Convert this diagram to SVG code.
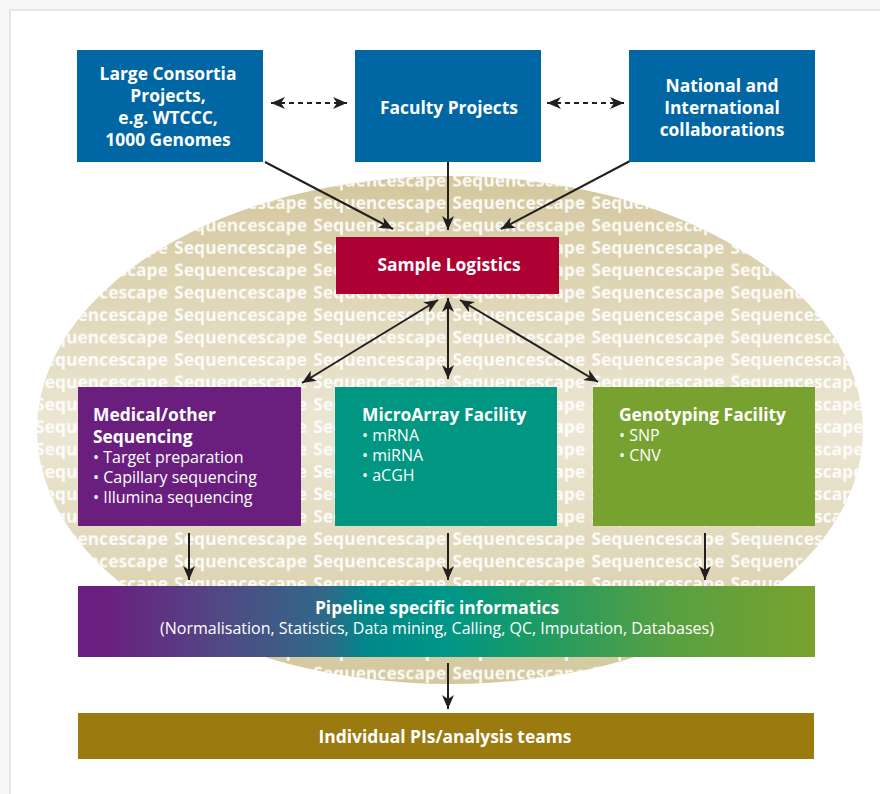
<svg xmlns="http://www.w3.org/2000/svg" width="880" height="794" viewBox="0 0 880 794">
<defs>
<style>
.t{font-family:"Open Sans","Noto Sans","Liberation Sans",sans-serif;fill:#fff}
.b{font-weight:700;font-size:17.4px}
.r{font-weight:400;font-size:16px}
.ln{stroke:#231f20;stroke-width:2;fill:none}
.dash{stroke-dasharray:5 4}
</style>
<linearGradient id="ell" x1="0" y1="0" x2="0" y2="1">
<stop offset="0" stop-color="#d3c79c"/>
<stop offset="0.5" stop-color="#ece7d5"/>
<stop offset="1" stop-color="#d3c89e"/>
</linearGradient>
<linearGradient id="pipe" x1="0" y1="0" x2="1" y2="0">
<stop offset="0" stop-color="#6a1f80"/>
<stop offset="0.04" stop-color="#6a2080"/>
<stop offset="0.2" stop-color="#504a84"/>
<stop offset="0.34" stop-color="#2e6a88"/>
<stop offset="0.39" stop-color="#00878a"/>
<stop offset="0.5" stop-color="#009688"/>
<stop offset="0.6" stop-color="#169a68"/>
<stop offset="0.8" stop-color="#57a042"/>
<stop offset="1" stop-color="#79a22e"/>
</linearGradient>
<pattern id="seq" patternUnits="userSpaceOnUse" x="35" y="170" width="139.1" height="22.4">
<text x="0" y="17" font-family="Open Sans, Noto Sans, Liberation Sans, sans-serif" font-weight="700" font-size="17" fill="#fff" fill-opacity="0.9" textLength="133" lengthAdjust="spacingAndGlyphs">Sequencescape</text>
</pattern>
<marker id="ah" viewBox="0 0 14 12" refX="14" refY="6" markerWidth="14" markerHeight="12" markerUnits="userSpaceOnUse" orient="auto-start-reverse">
<path d="M0,0 L14,6 L0,12 L4,6 z" fill="#231f20"/>
</marker>
</defs>
<rect x="0" y="0" width="880" height="794" fill="#f6f6f6"/>
<rect x="10" y="10" width="900" height="900" fill="#fff" stroke="#e6e6e6" stroke-width="2"/>
<g id="background">
<ellipse cx="450" cy="430" rx="413" ry="254" fill="url(#ell)"/>
<ellipse cx="450" cy="430" rx="413" ry="254" fill="url(#seq)"/>
</g>
<g id="connectors">
<line class="ln dash" x1="271" y1="103" x2="347" y2="103" marker-start="url(#ah)" marker-end="url(#ah)"/>
<line class="ln dash" x1="547" y1="103" x2="624" y2="103" marker-start="url(#ah)" marker-end="url(#ah)"/>
<line class="ln" x1="265" y1="162" x2="393" y2="229" marker-end="url(#ah)"/>
<line class="ln" x1="448" y1="162" x2="448" y2="230" marker-end="url(#ah)"/>
<line class="ln" x1="630" y1="161" x2="501" y2="229" marker-end="url(#ah)"/>
<line class="ln" x1="438" y1="300" x2="302" y2="383" marker-start="url(#ah)" marker-end="url(#ah)"/>
<line class="ln" x1="448" y1="298" x2="448" y2="379" marker-start="url(#ah)" marker-end="url(#ah)"/>
<line class="ln" x1="460" y1="300" x2="598" y2="382" marker-start="url(#ah)" marker-end="url(#ah)"/>
<line class="ln" x1="189" y1="533" x2="189" y2="580" marker-end="url(#ah)"/>
<line class="ln" x1="448" y1="533" x2="448" y2="580" marker-end="url(#ah)"/>
<line class="ln" x1="705" y1="533" x2="705" y2="580" marker-end="url(#ah)"/>
<line class="ln" x1="448" y1="663" x2="448" y2="709" marker-end="url(#ah)"/>
</g>
<g id="large-consortia">
<rect x="77" y="50" width="186" height="112" fill="#0066a4"/>
<text class="t b" text-anchor="middle"><tspan x="168" y="80">Large Consortia</tspan><tspan x="168" y="102">Projects,</tspan><tspan x="168" y="124">e.g. WTCCC,</tspan><tspan x="168" y="146">1000 Genomes</tspan></text>
</g>
<g id="faculty-projects">
<rect x="355" y="50" width="186" height="112" fill="#0066a4"/>
<text class="t b" text-anchor="middle" x="449" y="114">Faculty Projects</text>
</g>
<g id="national">
<rect x="629" y="50" width="186" height="112" fill="#0066a4"/>
<text class="t b" text-anchor="middle"><tspan x="722" y="92">National and</tspan><tspan x="722" y="114">International</tspan><tspan x="722" y="136">collaborations</tspan></text>
</g>
<g id="sample-logistics">
<rect x="336" y="237" width="223" height="57" fill="#ae0032"/>
<text class="t b" text-anchor="middle" x="449" y="271">Sample Logistics</text>
</g>
<g id="medical">
<rect x="78" y="387" width="223" height="139" fill="#6a1f7f"/>
<text class="t b"><tspan x="93" y="420.5">Medical/other</tspan><tspan x="93" y="442.5">Sequencing</tspan><tspan class="r" x="93" y="462.5">• Target preparation</tspan><tspan class="r" x="93" y="482.5">• Capillary sequencing</tspan><tspan class="r" x="93" y="502.5">• Illumina sequencing</tspan></text>
</g>
<g id="microarray">
<rect x="335" y="387" width="222" height="139" fill="#009681"/>
<text class="t b"><tspan x="362" y="421">MicroArray Facility</tspan><tspan class="r" x="362" y="441">• mRNA</tspan><tspan class="r" x="362" y="461">• miRNA</tspan><tspan class="r" x="362" y="481">• aCGH</tspan></text>
</g>
<g id="genotyping">
<rect x="593" y="387" width="222" height="139" fill="#78a22f"/>
<text class="t b"><tspan x="619" y="421">Genotyping Facility</tspan><tspan class="r" x="619" y="441">• SNP</tspan><tspan class="r" x="619" y="461">• CNV</tspan></text>
</g>
<g id="pipeline">
<rect x="78" y="586" width="737" height="71" fill="url(#pipe)"/>
<text class="t b" text-anchor="middle"><tspan x="437" y="614">Pipeline specific informatics</tspan><tspan class="r" x="437" y="634">(Normalisation, Statistics, Data mining, Calling, QC, Imputation, Databases)</tspan></text>
</g>
<g id="individual">
<rect x="78" y="713" width="736" height="46" fill="#9b7b10"/>
<text class="t b" text-anchor="middle" x="445" y="743">Individual PIs/analysis teams</text>
</g>
</svg>
